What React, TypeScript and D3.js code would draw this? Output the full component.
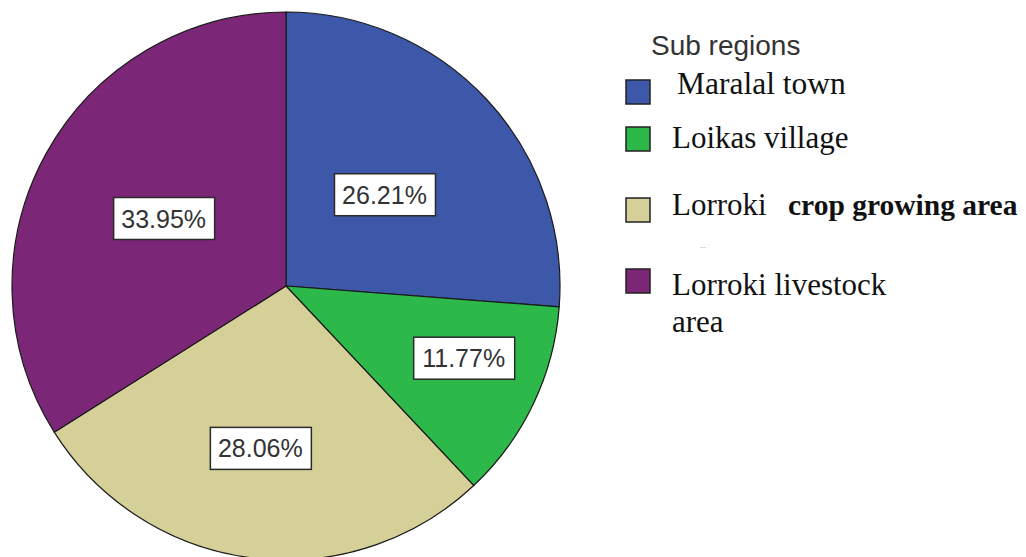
import * as d3 from "d3";

const regions = ["Maralal town", "Loikas village", "Lorroki crop growing area", "Lorroki livestock area"];
const shares = [26.21, 11.77, 28.06, 33.95];
const colors = ["#3d57a9", "#2db84a", "#d5cf98", "#7b2676"];

// label distance from centre, as share of radius (SPSS places them loosely)
const labelRadius = [0.49, 0.7, 0.6, 0.51];
// small angular nudge (radians) so labels sit where SPSS put them
const labelNudge = [0, -0.06, 0.03, 0];

export default function App() {
  const width = 1026;
  const height = 557;
  const cx = 286;
  const cy = 286;
  const r = 274;

  const pie = d3
    .pie<number>()
    .sort(null)
    .value((d) => d);
  const arcs = pie(shares);
  const arc = d3.arc<d3.PieArcDatum<number>>().innerRadius(0).outerRadius(r);

  const legendY = [92, 139, 210, 281];

  return (
    <svg
      width={width}
      height={height}
      style={{ position: "absolute", left: 0, top: 0, background: "#fff" }}
    >
      <g transform={`translate(${cx},${cy})`}>
        {arcs.map((a, i) => (
          <path key={i} d={arc(a) || ""} fill={colors[i]} stroke="#1a1a1a" strokeWidth={1.2} />
        ))}
        {arcs.map((a, i) => {
          const lr = r * labelRadius[i];
          const la = d3.arc<d3.PieArcDatum<number>>().innerRadius(lr).outerRadius(lr);
          const [x, y] = la.centroid({
            ...a,
            startAngle: a.startAngle + labelNudge[i],
            endAngle: a.endAngle + labelNudge[i],
          });
          return (
            <g key={"l" + i} transform={`translate(${x},${y})`}>
              <rect x={-50} y={-21} width={101} height={42} fill="#fff" stroke="#2a2a2a" strokeWidth={1.5} />
              <text
                textAnchor="middle"
                dy="0.36em"
                fontFamily="Arial, 'Liberation Sans', sans-serif"
                fontSize={25}
                fill="#333"
              >
                {d3.format(".2f")(shares[i])}%
              </text>
            </g>
          );
        })}
      </g>

      <text x={651} y={55} fontFamily="Arial, 'Liberation Sans', sans-serif" fontSize={28} fill="#333">
        Sub regions
      </text>
      {regions.map((name, i) => (
        <rect
          key={"s" + i}
          x={626}
          y={legendY[i] - 12}
          width={24}
          height={24}
          fill={colors[i]}
          stroke="#222"
          strokeWidth={1.5}
        />
      ))}
      <g fontFamily="'Liberation Serif', 'Times New Roman', serif" fill="#111">
        <text x={677} y={94} fontSize={31.5}>{regions[0]}</text>
        <text x={672} y={148} fontSize={31}>{regions[1]}</text>
        <text x={672} y={215} fontSize={31}>
          Lorroki
          <tspan x={788} fontWeight="bold" fontSize={29.5}>crop growing area</tspan>
        </text>
        <text x={700} y={250} fontSize={9} fill="#bbb">--</text>
        <text x={672} y={295} fontSize={31}>Lorroki livestock</text>
        <text x={672} y={332} fontSize={31}>area</text>
      </g>
    </svg>
  );
}
